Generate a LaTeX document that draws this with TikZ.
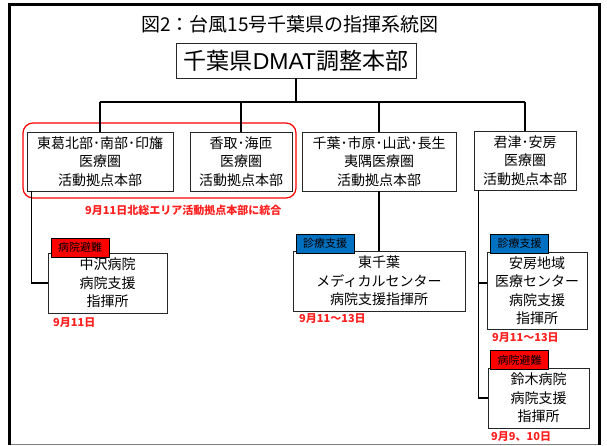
\documentclass[tikz,border=0pt]{standalone}
\usepackage{fontspec}
\setmainfont{Noto Sans CJK JP}
\newfontfamily\latn{Liberation Sans}
\definecolor{tagred}{HTML}{FF0000}
\definecolor{tagblue}{HTML}{0070C0}
\definecolor{notered}{HTML}{FF2020}
\begin{document}
\begin{tikzpicture}[x=1pt,y=-1pt,
  box/.style={draw=black!85, line width=0.9pt, fill=white, inner sep=0pt, align=center, font=\fontsize{14}{18.5}\selectfont},
  tagbox/.style={draw=black, line width=0.7pt, inner sep=0pt, minimum width=58pt, minimum height=19pt, font=\fontsize{11}{13}\selectfont},
  tagr/.style={tagbox, fill=tagred},
  tagb/.style={tagbox, fill=tagblue},
  note/.style={text=notered, font=\bfseries\fontsize{11}{13}\selectfont, inner sep=0pt, anchor=west},
  conn/.style={line width=1.2pt, draw=black}]
\useasboundingbox (0,0) rectangle (607,445);
% frame
\draw[line width=3pt] (9.5,445) -- (9.5,4.5) -- (599.5,4.5) -- (599.5,445);
\draw[gray, line width=1pt] (11,444) -- (598,444);
% title
\node[inner sep=0pt, font=\fontsize{19}{22}\selectfont] (title) at (290,24) {図2：台風15号千葉県の指揮系統図};
\node[box, font=\fontsize{23}{26}\selectfont, minimum width=240pt, minimum height=35pt] (dmat) at (296,60.5) {千葉県{\latn DMAT}調整本部};
% upper boxes
\node[box, minimum width=146pt, minimum height=59pt] (b1) at (100,161.5) {東葛北部･南部･印旛\\医療圏\\活動拠点本部};
\node[box, minimum width=102pt, minimum height=59pt] (b2) at (241,161.5) {香取･海匝\\医療圏\\活動拠点本部};
\node[box, minimum width=154pt, minimum height=59pt] (b3) at (379,161.5) {千葉･市原･山武･長生\\夷隅医療圏\\活動拠点本部};
\node[box, minimum width=102pt, minimum height=59pt] (b4) at (525,160.5) {君津･安房\\医療圏\\活動拠点本部};
\draw[tagred, line width=1.2pt, rounded corners=10pt] (23,123) rectangle (296,198);
\node[note] (r1) at (85,210) {9月11日北総エリア活動拠点本部に統合};
% lower boxes
\node[box, minimum width=119pt, minimum height=60pt] (n1) at (107.5,283) {中沢病院\\病院支援\\指揮所};
\node[box, minimum width=172pt, minimum height=60pt] (n2) at (379,281) {東千葉\\メディカルセンター\\病院支援指揮所};
\node[box, minimum width=100pt, minimum height=77pt] (n3) at (537,290.5) {安房地域\\医療センター\\病院支援\\指揮所};
\node[box, minimum width=101pt, minimum height=60pt] (n4) at (538.5,398) {鈴木病院\\病院支援\\指揮所};
% tags
\node[tagr] (t1) at (80,247.5) {病院避難};
\node[tagb] (t2) at (325,243.5) {診療支援};
\node[tagb] (t3) at (519.5,243.5) {診療支援};
\node[tagr] (t4) at (519.5,360) {病院避難};
% notes
\node[note] (r2) at (53,323) {9月11日};
\node[note] (r3) at (299,319) {9月11～13日};
\node[note] (r4) at (492,338) {9月11～13日};
\node[note] (r5) at (491,437) {9月9、10日};
% connectors
\coordinate (hub) at (296,102);
\draw[conn] (dmat.south) -- (hub);
\draw[conn] (b1.north |- hub) -- (b4.north |- hub);
\draw[conn] (b1.north |- hub) -- (b1.north);
\draw[conn] (b2.north |- hub) -- (b2.north);
\draw[conn] (b3.north |- hub) -- (b3.north);
\draw[conn] (b4.north |- hub) -- (b4.north);
\draw[conn] ([xshift=5pt]b1.south west) |- (n1.west);
\draw[conn] (b3.south) -- (n2.north);
\coordinate (v4) at ([xshift=5pt]b4.south west);
\draw[conn] (v4) |- (n4.west);
\draw[conn] ([yshift=7.5pt]n3.west) -- ([yshift=7.5pt]n3.west -| v4);
\end{tikzpicture}
\end{document}
